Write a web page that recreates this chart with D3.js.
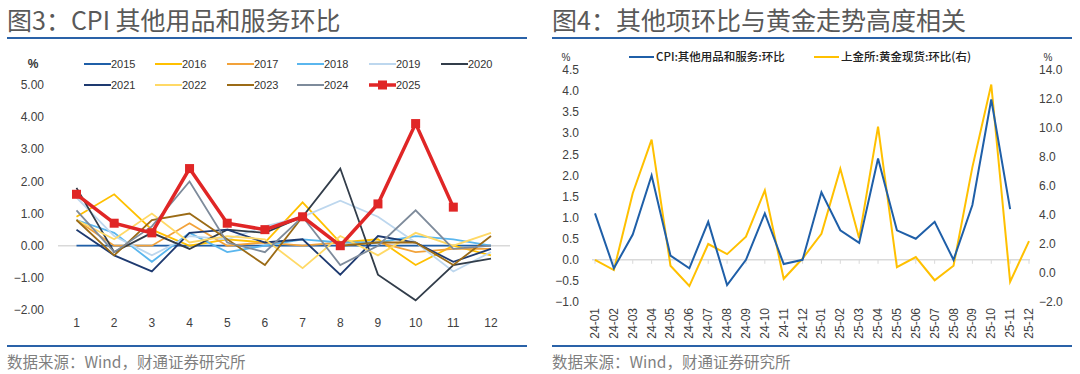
<!DOCTYPE html>
<meta charset="utf-8">
<style>

body { margin: 0; background: #fff; }

svg {
  display: block;
  font-family: "Noto Sans CJK SC", "Liberation Sans", sans-serif;
}

.title { font-size: 25px; fill: #595959; }
.source { font-size: 15.5px; fill: #7f7f7f; }
.rule { stroke: #2a62a8; stroke-width: 2px; }

.tick-lab {
  font-family: "Liberation Sans", Arial, sans-serif;
  font-size: 12px;
  fill: #404040;
}

.leg-lab {
  font-family: "Liberation Sans", Arial, sans-serif;
  font-size: 11px;
  fill: #333;
}

.leg-cn { font-size: 11.5px; fill: #222; font-weight: 500; }

.series { fill: none; }

</style>
<svg width="1080" height="374"></svg>
<script src="https://d3js.org/d3.v7.min.js"></script>
<script>

// ---- data: CPI 其他用品和服务 环比 (%), by year
var months = [1, 2, 3, 4, 5, 6, 7, 8, 9, 10, 11, 12];
var years = ["2015", "2016", "2017", "2018", "2019", "2020",
             "2021", "2022", "2023", "2024", "2025"];

var s2015 = [0.0, 0.0, 0.0, 0.0, 0.0, 0.0, 0.0, 0.0, 0.0, 0.0, 0.0, 0.0];
var s2016 = [0.9, 1.6, 0.5, 0.0, 0.2, 0.1, 1.35, 0.1, 0.2, -0.6, 0.0, -0.3];
var s2017 = [0.8, 0.0, 0.0, 0.7, 0.0, 0.1, 0.0, 0.1, 0.1, -0.2, -0.1, -0.1];
var s2018 = [0.8, 0.4, -0.5, 0.4, -0.2, 0.0, 0.2, 0.1, 0.1, 0.3, 0.2, 0.0];
var s2019 = [1.5, 0.3, -0.3, 0.3, 0.2, 0.6, 0.9, 1.4, 0.9, 0.1, -0.8, -0.2];
var s2020 = [1.8, -0.2, 0.4, -0.1, 0.5, 0.4, 0.9, 2.4, -0.9, -1.7, -0.6, -0.4];
var s2021 = [0.5, -0.3, -0.8, 0.4, 0.5, 0.1, 0.2, -0.9, 0.3, 0.1, -0.5, -0.1];
var s2022 = [0.8, 0.2, 1.0, 0.1, 0.3, 0.2, -0.7, 0.3, -0.3, 0.4, 0.0, 0.4];
var s2023 = [0.8, -0.3, 0.8, 1.0, 0.2, -0.6, 0.9, 0.0, 0.1, 0.1, -0.6, 0.3];
var s2024 = [1.1, -0.2, 0.6, 2.0, 0.1, -0.2, 0.9, -0.6, 0.0, 1.1, -0.1, 0.0];
var s2025 = [1.6, 0.7, 0.4, 2.4, 0.7, 0.5, 0.9, 0.0, 1.3, 3.8, 1.2];

var leftTicks = [-2, -1, 0, 1, 2, 3, 4, 5];

// ---- data: 其他项环比 vs 黄金
var ymLabels = ["24-01", "24-02", "24-03", "24-04", "24-05", "24-06",
                "24-07", "24-08", "24-09", "24-10", "24-11", "24-12",
                "25-01", "25-02", "25-03", "25-04", "25-05", "25-06",
                "25-07", "25-08", "25-09", "25-10", "25-11", "25-12"];
var cpiOther = s2024.concat(s2025);
var goldSpot = [0.9, 0.2, 5.5, 9.2, 0.5, -0.9, 2.0, 1.3, 2.5, 5.7, -0.4, 1.0,
                2.7, 7.2, 2.4, 10.1, 0.4, 1.1, -0.5, 0.5, 7.3, 13.0, -0.6, 2.2];
var rLeftTicks = [-1, -0.5, 0, 0.5, 1, 1.5, 2, 2.5, 3, 3.5, 4, 4.5];
var rRightTicks = [-2, 0, 2, 4, 6, 8, 10, 12, 14];

var yearColors = ["#1f5fa8", "#ffc000", "#f2a23a", "#5ab6ee", "#bdd7ee", "#323d4a",
                  "#1e3a70", "#ffd966", "#9b6b16", "#7e8b9b", "#e02626"];

var svg = d3.select("svg");
var byYear = [s2015, s2016, s2017, s2018, s2019, s2020, s2021, s2022, s2023, s2024, s2025];

// ================= left panel =================
svg.append("text").attr("class", "title").attr("x", 7).attr("y", 30)
    .text("图3：CPI 其他用品和服务环比");
svg.append("line").attr("class", "rule").attr("x1", 7).attr("x2", 527).attr("y1", 38).attr("y2", 38);
svg.append("line").attr("class", "rule").attr("x1", 7).attr("x2", 527).attr("y1", 346).attr("y2", 346);
svg.append("text").attr("class", "source").attr("x", 7).attr("y", 368)
    .text("数据来源：Wind，财通证券研究所");

var x1 = d3.scalePoint().domain(months).range([76.5, 491]);
var y1 = d3.scaleLinear().domain([-2, 5]).range([310, 85]);

svg.append("line")
    .attr("x1", 58).attr("x2", 510)
    .attr("y1", y1(0)).attr("y2", y1(0))
    .attr("stroke", "#d9d9d9").attr("stroke-width", 1.5);

svg.append("g").selectAll("text")
    .data(leftTicks)
    .enter().append("text")
    .attr("class", "tick-lab")
    .attr("x", 44)
    .attr("y", function(d) { return y1(d); })
    .attr("dy", "0.35em")
    .attr("text-anchor", "end")
    .text(d3.format(".2f"));

svg.append("g").selectAll("text")
    .data(months)
    .enter().append("text")
    .attr("class", "tick-lab")
    .attr("x", function(d) { return x1(d); })
    .attr("y", 327)
    .attr("text-anchor", "middle")
    .text(function(d) { return d; });

svg.append("text").attr("class", "leg-lab").attr("x", 33).attr("y", 68)
    .attr("text-anchor", "middle").style("font-weight", "bold").style("font-size", "12px").text("%");

var line1 = d3.line()
    .x(function(d, i) { return x1(months[i]); })
    .y(function(d) { return y1(d); });

svg.append("g").selectAll("path")
    .data(byYear)
    .enter().append("path")
    .attr("class", "series")
    .attr("d", line1)
    .attr("stroke", function(d, i) { return yearColors[i]; })
    .attr("stroke-width", function(d, i) { return i == 10 ? 3.5 : 1.8; });

svg.append("g").selectAll("rect")
    .data(s2025)
    .enter().append("rect")
    .attr("x", function(d, i) { return x1(months[i]) - 4.5; })
    .attr("y", function(d) { return y1(d) - 4.5; })
    .attr("width", 9).attr("height", 9)
    .attr("fill", "#e02626");

// legend, 6 per row
var legCols = [84, 155, 227, 297, 369, 441];
var leg1 = svg.append("g").selectAll("g")
    .data(years)
    .enter().append("g")
    .attr("transform", function(d, i) {
        return "translate(" + legCols[i % 6] + "," + (i < 6 ? 64 : 85) + ")";
    });
leg1.append("line")
    .attr("x1", 0).attr("x2", 27)
    .attr("stroke", function(d, i) { return yearColors[i]; })
    .attr("stroke-width", function(d, i) { return i == 10 ? 3.5 : 2; });
leg1.filter(function(d) { return d == "2025"; }).append("rect")
    .attr("x", 9).attr("y", -4.5).attr("width", 9).attr("height", 9).attr("fill", "#e02626");
leg1.append("text")
    .attr("class", "leg-lab")
    .attr("x", 27).attr("dy", "0.35em")
    .text(function(d) { return d; });

// ================= right panel =================
svg.append("text").attr("class", "title").attr("x", 552).attr("y", 30)
    .text("图4：其他项环比与黄金走势高度相关");
svg.append("line").attr("class", "rule").attr("x1", 552).attr("x2", 1072).attr("y1", 38).attr("y2", 38);
svg.append("line").attr("class", "rule").attr("x1", 552).attr("x2", 1072).attr("y1", 346).attr("y2", 346);
svg.append("text").attr("class", "source").attr("x", 552).attr("y", 368)
    .text("数据来源：Wind，财通证券研究所");

var x2 = d3.scalePoint().domain(ymLabels).range([595, 1029]);
var yL = d3.scaleLinear().domain([-1, 4.5]).range([302, 70]);
var yR = d3.scaleLinear().domain([-2, 14]).range([302, 70]);

svg.append("line")
    .attr("x1", 592).attr("x2", 1030)
    .attr("y1", yL(0)).attr("y2", yL(0))
    .attr("stroke", "#d9d9d9").attr("stroke-width", 1.5);

svg.append("g").selectAll("line")
    .data(ymLabels)
    .enter().append("line")
    .attr("x1", function(d) { return x2(d); })
    .attr("x2", function(d) { return x2(d); })
    .attr("y1", yL(0)).attr("y2", yL(0) + 4)
    .attr("stroke", "#d9d9d9").attr("stroke-width", 1);

svg.append("g").selectAll("text")
    .data(rLeftTicks)
    .enter().append("text")
    .attr("class", "tick-lab")
    .attr("x", 579)
    .attr("y", function(d) { return yL(d); })
    .attr("dy", "0.35em")
    .attr("text-anchor", "end")
    .text(d3.format(".1f"));

svg.append("g").selectAll("text")
    .data(rRightTicks)
    .enter().append("text")
    .attr("class", "tick-lab")
    .attr("x", 1039)
    .attr("y", function(d) { return yR(d); })
    .attr("dy", "0.35em")
    .text(d3.format(".1f"));

svg.append("g").selectAll("text")
    .data(ymLabels)
    .enter().append("text")
    .attr("class", "tick-lab")
    .attr("transform", function(d) { return "translate(" + (x2(d) + 4) + ",308) rotate(-90)"; })
    .attr("text-anchor", "end")
    .text(function(d) { return d; });

svg.append("text").attr("class", "leg-lab").attr("x", 566).attr("y", 61)
    .attr("text-anchor", "middle").style("font-size", "10px").text("%");
svg.append("text").attr("class", "leg-lab").attr("x", 1048).attr("y", 61)
    .attr("text-anchor", "middle").style("font-size", "10px").text("%");

var lineL = d3.line()
    .x(function(d, i) { return x2(ymLabels[i]); })
    .y(function(d) { return yL(d); });
var lineR = d3.line()
    .x(function(d, i) { return x2(ymLabels[i]); })
    .y(function(d) { return yR(d); });

svg.append("path").datum(goldSpot)
    .attr("class", "series")
    .attr("d", lineR)
    .attr("stroke", "#ffc000").attr("stroke-width", 2);

svg.append("path").datum(cpiOther)
    .attr("class", "series")
    .attr("d", lineL)
    .attr("stroke", "#1f5fa8").attr("stroke-width", 2);

var leg2 = [
    { name: "CPI:其他用品和服务:环比", color: "#1f5fa8", x: 629 },
    { name: "上金所:黄金现货:环比(右)", color: "#ffc000", x: 814 }
];
var lg = svg.append("g").selectAll("g")
    .data(leg2)
    .enter().append("g")
    .attr("transform", function(d) { return "translate(" + d.x + ",57)"; });
lg.append("line").attr("x1", 0).attr("x2", 25)
    .attr("stroke", function(d) { return d.color; }).attr("stroke-width", 2);
lg.append("text").attr("class", "leg-cn").attr("x", 27).attr("dy", "0.35em")
    .text(function(d) { return d.name; });

</script>
